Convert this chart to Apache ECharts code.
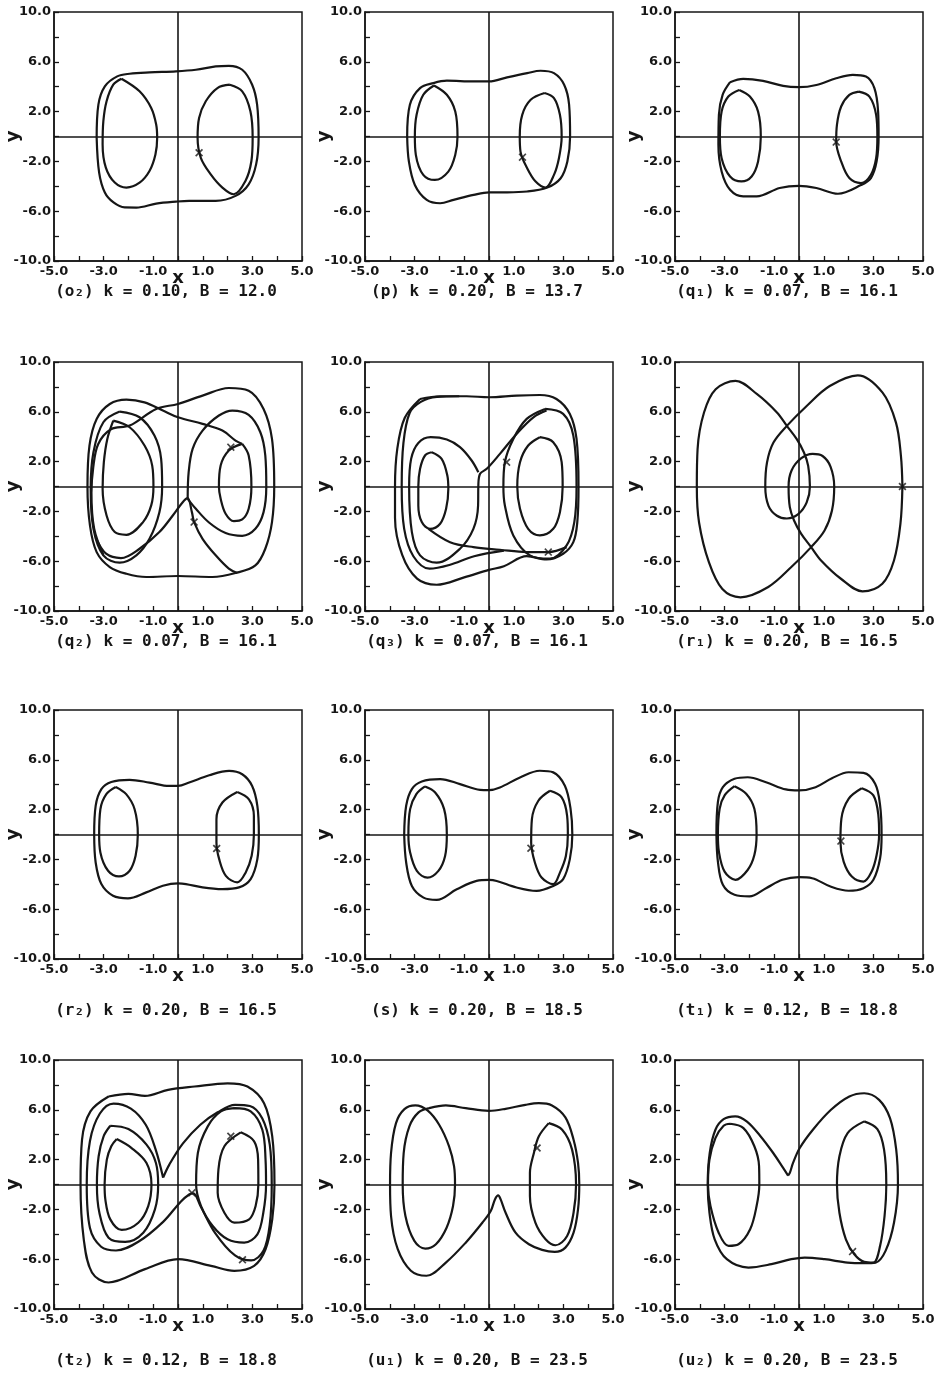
<!DOCTYPE html>
<html>
<head>
<meta charset="utf-8">
<script src="https://cdn.jsdelivr.net/npm/echarts@6/dist/echarts.min.js"></script>
<style>
  html, body { margin: 0; background: #fff; }
  #chart { width: 947px; height: 1380px; }
</style>
</head>
<body>
<div id="chart"></div>
<script>
// tick labels shown on the axes
var xTicks = [-5, -3, -1, 1, 3, 5];
var yTicks = [-10, -6, -2, 2, 6, 10];

// (o2) k = 0.10, B = 12.0
var o2LoopL = [[-2.28,4.64],[-1.55,3.63],[-1.08,2.29],[-0.88,0.96],[-0.84,-0.1],[-0.91,-1.44],[-1.15,-2.77],[-1.55,-3.71],[-2.08,-4.1],[-2.55,-3.7],[-2.91,-2.5],[-3.04,-0.64],[-3.01,1.23],[-2.88,2.83],[-2.61,4.16],[-2.28,4.64]];
var o2Outer = [[-3.28,-0.1],[-3.21,2.56],[-2.95,4.03],[-2.45,4.83],[-1.95,5.04],[-1.15,5.15],[-0.08,5.23],[0.72,5.36],[1.52,5.63],[2.05,5.68],[2.59,5.36],[2.99,4.16],[3.19,2.56],[3.25,-0.1],[3.15,-2.24],[2.85,-3.84],[2.32,-4.77],[1.52,-5.17],[0.45,-5.17],[-0.08,-5.23],[-0.88,-5.39],[-1.68,-5.71],[-2.15,-5.7],[-2.6,-5.3],[-2.95,-4.5],[-3.18,-2.9],[-3.28,-0.1]];
var o2LoopR = [[2.09,4.16],[2.59,3.63],[2.92,2.03],[3.01,-0.1],[2.96,-1.97],[2.72,-3.57],[2.25,-4.64],[1.79,-4.1],[1.32,-3.04],[0.92,-1.71],[0.79,-0.1],[0.85,1.49],[1.12,2.83],[1.59,3.89],[2.09,4.16]];
var o2Mark = [[0.85,-1.31]];

// (p) k = 0.20, B = 13.7
var pLoopL = [[-2.22,4.1],[-1.7,3.35],[-1.36,2.01],[-1.27,0],[-1.36,-1.47],[-1.64,-2.82],[-2.18,-3.49],[-2.65,-3.08],[-2.95,-1.47],[-2.99,0],[-2.92,1.74],[-2.65,3.35],[-2.22,4.1]];
var pOuter = [[-3.3,0],[-3.19,2.55],[-2.78,3.89],[-2.24,4.29],[-1.7,4.48],[-0.62,4.42],[0,4.42],[0.73,4.75],[1.54,5.09],[2.08,5.28],[2.62,5.09],[3.03,4.16],[3.23,2.55],[3.27,0],[3.16,-2.01],[2.89,-3.35],[2.35,-4.1],[1.54,-4.42],[0.73,-4.48],[0,-4.48],[-0.62,-4.69],[-1.43,-5.09],[-1.97,-5.36],[-2.51,-5.09],[-2.99,-3.89],[-3.23,-2.01],[-3.3,0]];
var pLoopR = [[2.24,3.49],[2.62,3.08],[2.86,1.74],[2.93,0],[2.82,-1.74],[2.62,-3.08],[2.28,-4.1],[1.88,-3.62],[1.54,-2.55],[1.27,-1.21],[1.24,0],[1.34,1.74],[1.68,2.95],[2.24,3.49]];
var pMark = [[1.35,-1.66]];

// (q1) k = 0.07, B = 16.1
var q1Outer = [[-2.78,4.36],[-2.25,4.63],[-1.45,4.47],[-0.64,4.06],[0,3.96],[0.7,4.14],[1.5,4.68],[2.17,4.95],[2.7,4.81],[3.04,3.88],[3.19,2.0],[3.21,0],[3.13,-2.0],[2.9,-3.34],[2.5,-3.9],[1.57,-4.6],[0.7,-4.14],[0,-3.96],[-0.78,-4.14],[-1.71,-4.81],[-2.25,-4.81],[-2.78,-4.28],[-3.12,-2.81],[-3.25,-0.67],[-3.23,1.74],[-3.08,3.34],[-2.78,4.36]];
var q1LoopL = [[-2.41,3.74],[-1.98,3.21],[-1.65,2.0],[-1.54,0],[-1.65,-2.0],[-1.91,-3.21],[-2.32,-3.61],[-2.78,-3.21],[-3.12,-1.74],[-3.19,0],[-3.12,2.0],[-2.85,3.21],[-2.41,3.74]];
var q1LoopR = [[2.41,3.61],[2.84,3.21],[3.11,1.74],[3.16,0],[3.11,-1.74],[2.9,-3.07],[2.5,-3.74],[2.03,-3.34],[1.7,-2.0],[1.5,-0.4],[1.53,0.94],[1.7,2.41],[2.03,3.34],[2.41,3.61]];
var q1Mark = [[1.5,-0.45]];

// (q2) k = 0.07, B = 16.1
var q2LoopA = [[-2.61,5.29],[-1.95,4.76],[-1.35,3.29],[-1.04,1.68],[-0.99,0],[-1.08,-1.52],[-1.41,-2.86],[-2.08,-3.88],[-2.55,-3.66],[-2.88,-2.33],[-3.04,-0.19],[-2.99,1.95],[-2.85,3.82],[-2.61,5.29]];
var q2LoopB = [[-2.35,6.02],[-1.55,5.56],[-0.95,4.09],[-0.68,2.22],[-0.64,0],[-0.75,-2.06],[-1.15,-4.2],[-1.68,-5.53],[-2.35,-6.12],[-3.01,-5.53],[-3.41,-3.4],[-3.52,-0.19],[-3.41,2.75],[-3.01,5.16],[-2.35,6.02]];
var q2Outer = [[-3.01,-5.5],[-3.38,-3.4],[-3.49,-0.5],[-3.42,1.5],[-3.22,3.4],[-2.7,4.6],[-1.95,4.89],[-0.88,6.23],[0,6.63],[0.99,7.3],[2.05,7.91],[2.85,7.7],[3.45,6.23],[3.79,3.82],[3.88,0],[3.79,-2.86],[3.52,-5.0],[3.12,-6.34],[2.32,-6.95],[1.39,-7.27],[0,-7.19],[-1.28,-7.27],[-2.08,-7.01],[-2.75,-6.47],[-3.28,-5.27],[-3.55,-3.13],[-3.65,0],[-3.57,3.29],[-3.28,5.43],[-2.75,6.63],[-2.08,6.98],[-1.35,6.76],[-0.61,6.1],[0,5.56],[0.99,5.03],[1.79,4.49],[2.32,3.69],[2.59,3.42]];
var q2LoopRI = [[2.59,3.42],[2.85,2.49],[2.96,0],[2.85,-1.79],[2.59,-2.65],[2.25,-2.78],[1.92,-2.19],[1.72,-0.99],[1.65,0],[1.72,1.68],[2.05,2.89],[2.59,3.42]];
var q2LoopRM = [[0.39,-0.99],[0.43,1.15],[0.59,3.02],[0.99,4.49],[1.65,5.7],[2.19,6.1],[2.85,5.75],[3.32,4.36],[3.52,2.49],[3.56,0],[3.45,-2.06],[3.12,-3.4],[2.59,-3.96],[1.92,-3.74],[1.25,-2.89],[0.72,-1.79],[0.39,-0.99]];
var q2Lower = [[-3.3,-4.2],[-2.9,-5.4],[-2.3,-5.75],[-1.55,-5.0],[-0.75,-3.66],[-0.21,-2.33],[0.19,-1.26],[0.39,-0.94],[0.56,-2.06],[0.65,-2.86],[0.99,-4.2],[1.52,-5.53],[2.05,-6.6],[2.39,-6.95]];
var q2Mark = [[0.65,-2.86],[2.13,3.16]];

// (q3) k = 0.07, B = 16.1
var q3LoopA = [[-2.31,2.75],[-1.91,2.22],[-1.68,0.88],[-1.64,-0.19],[-1.73,-1.79],[-1.97,-2.99],[-2.38,-3.4],[-2.71,-2.86],[-2.85,-1.52],[-2.85,0],[-2.78,1.42],[-2.58,2.49],[-2.31,2.75]];
var q3LoopB = [[2.32,6.1],[1.79,5.56],[1.11,4.22],[0.44,2.62],[-0.09,1.42],[-0.36,1.02],[-0.43,0.08],[-0.44,-1.52],[-0.63,-3.4],[-1.17,-5.0],[-2.11,-6.12],[-2.78,-5.53],[-3.11,-3.66],[-3.22,0],[-3.14,2.22],[-2.85,3.5],[-2.35,3.96],[-1.7,3.77],[-1.17,3.16],[-0.7,2.09],[-0.43,1.15]];
var q3LoopC = [[-1.2,7.25],[-2.1,7.2],[-2.75,6.8],[-3.2,5.9],[-3.45,3.5],[-3.52,0],[-3.42,-3.4],[-3.05,-5.6],[-2.4,-6.6],[-1.6,-6.3],[-0.6,-5.6],[0.6,-5.15]];
var q3Outer = [[-2.78,7.03],[-1.97,7.25],[-0.9,7.25],[0,7.17],[1.11,7.3],[2.05,7.35],[2.72,7.03],[3.26,5.83],[3.53,3.82],[3.61,0],[3.56,-2.86],[3.4,-4.47],[2.99,-5.4],[2.32,-5.86],[1.52,-5.6],[0.6,-6.4],[0,-6.7],[-1.0,-7.3],[-2.11,-7.89],[-2.9,-7.4],[-3.5,-5.5],[-3.79,-2.5],[-3.79,0],[-3.7,3.0],[-3.4,5.5],[-2.78,7.03]];
var q3LoopR1 = [[2.05,3.96],[2.59,3.56],[2.93,1.95],[2.97,0],[2.86,-2.06],[2.59,-3.4],[2.05,-3.93],[1.58,-3.4],[1.25,-1.79],[1.14,0],[1.25,1.95],[1.58,3.29],[2.05,3.96]];
var q3LoopR2 = [[2.26,6.23],[2.99,5.83],[3.4,4.09],[3.53,0],[3.44,-2.86],[3.13,-4.73],[2.46,-5.8],[1.65,-5.53],[0.98,-3.93],[0.64,-1.52],[0.58,0],[0.64,1.95],[0.98,3.82],[1.52,5.43],[2.26,6.23]];
var q3Lower = [[-2.44,-3.4],[-1.57,-4.47],[-0.63,-4.87],[0.44,-5.08],[1.52,-5.27],[2.39,-5.27],[3.13,-4.87]];
var q3Mark = [[0.71,1.95],[2.39,-5.27]];

// (r1) k = 0.20, B = 16.5
var r1Orbit = [[4.17,0],[4.11,2.46],[3.91,5.13],[3.37,7.54],[2.37,8.93],[1.24,8.07],[0.31,6.47],[-0.49,4.87],[-1.03,3.53],[-1.29,1.93],[-1.36,0],[-1.23,-1.55],[-0.89,-2.35],[-0.49,-2.57],[-0.03,-2.22],[0.31,-1.28],[0.44,0],[0.37,1.66],[0.2,2.73],[-0.09,3.8],[-0.49,4.87],[-0.89,5.94],[-1.69,7.41],[-2.56,8.48],[-3.36,7.81],[-3.83,5.94],[-4.09,2.99],[-4.12,0],[-4.03,-2.89],[-3.63,-6.1],[-3.09,-8.24],[-2.36,-8.9],[-1.24,-8.07],[-0.31,-6.47],[0.49,-4.87],[1.03,-3.53],[1.33,-1.93],[1.42,0],[1.27,1.6],[0.95,2.45],[0.55,2.62],[0.08,2.25],[-0.3,1.28],[-0.42,0],[-0.37,-1.66],[-0.2,-2.73],[0.09,-3.8],[0.49,-4.87],[0.89,-5.94],[1.69,-7.41],[2.56,-8.42],[3.36,-7.81],[3.83,-5.94],[4.09,-2.99],[4.17,0]];
var r1Mark = [[4.17,0]];

// (r2) k = 0.20, B = 16.5
var r2Outer = [[-3.38,0],[-3.32,2.3],[-3.09,3.64],[-2.69,4.22],[-1.95,4.39],[-1.15,4.17],[-0.35,3.9],[0,3.9],[0.45,4.17],[1.26,4.76],[2.06,5.11],[2.59,4.84],[2.99,3.9],[3.2,2.3],[3.26,0],[3.2,-1.98],[2.93,-3.58],[2.46,-4.25],[1.79,-4.39],[0.99,-4.25],[0.32,-3.98],[0,-3.93],[-0.61,-4.12],[-1.28,-4.65],[-2.02,-5.13],[-2.62,-4.92],[-3.09,-3.98],[-3.32,-2.25],[-3.38,0]];
var r2LoopL = [[-2.51,3.82],[-2.09,3.24],[-1.75,2.03],[-1.62,0],[-1.71,-1.71],[-1.95,-2.91],[-2.38,-3.37],[-2.82,-2.91],[-3.13,-1.44],[-3.18,0],[-3.13,2.03],[-2.89,3.24],[-2.51,3.82]];
var r2LoopR = [[2.39,3.42],[2.86,2.83],[3.06,1.5],[3.06,0],[2.97,-1.71],[2.73,-3.05],[2.39,-3.85],[1.93,-3.32],[1.66,-1.98],[1.55,-0.64],[1.55,1.23],[1.79,2.57],[2.39,3.42]];
var r2Mark = [[1.56,-1.12]];

// (s) k = 0.20, B = 18.5
var sOuter = [[-3.42,0],[-3.34,2.31],[-3.11,3.65],[-2.71,4.26],[-1.97,4.45],[-1.17,4.05],[-0.36,3.59],[0,3.57],[0.44,3.78],[1.25,4.58],[2.05,5.12],[2.59,4.99],[3.06,3.91],[3.29,2.04],[3.36,0],[3.26,-1.98],[2.99,-3.59],[2.59,-4.13],[1.92,-4.53],[1.11,-4.26],[0.31,-3.73],[0,-3.65],[-0.5,-3.73],[-1.3,-4.4],[-2.11,-5.25],[-2.64,-5.07],[-3.11,-4.13],[-3.34,-2.25],[-3.42,0]];
var sLoopL = [[-2.58,3.86],[-2.17,3.38],[-1.81,2.04],[-1.7,0],[-1.77,-1.72],[-2.04,-2.92],[-2.48,-3.46],[-2.91,-2.92],[-3.18,-1.45],[-3.25,0],[-3.18,2.04],[-2.93,3.24],[-2.58,3.86]];
var sLoopR = [[2.46,3.51],[2.93,2.98],[3.15,1.5],[3.18,0],[3.1,-1.72],[2.86,-3.06],[2.59,-3.99],[2.12,-3.46],[1.85,-2.25],[1.7,-0.64],[1.73,1.23],[1.99,2.71],[2.46,3.51]];
var sMark = [[1.69,-1.1]];

// (t1) k = 0.12, B = 18.8
var t1Outer = [[-3.33,0],[-3.27,2.61],[-3.07,3.8],[-2.6,4.47],[-2.07,4.6],[-1.33,4.2],[-0.53,3.62],[0,3.54],[0.67,3.8],[1.33,4.52],[2.0,5.0],[2.6,4.95],[3.07,4.07],[3.27,2.34],[3.33,0],[3.27,-1.91],[3.0,-3.64],[2.6,-4.31],[2.0,-4.52],[1.27,-4.18],[0.53,-3.51],[0,-3.43],[-0.67,-3.64],[-1.33,-4.31],[-2.0,-4.97],[-2.6,-4.84],[-3.07,-4.04],[-3.27,-2.18],[-3.33,0]];
var t1LoopL = [[-2.6,3.88],[-2.13,3.27],[-1.8,2.07],[-1.71,0],[-1.8,-1.65],[-2.07,-2.85],[-2.56,-3.64],[-3.0,-2.98],[-3.23,-1.38],[-3.27,0],[-3.2,2.07],[-3.0,3.14],[-2.6,3.88]];
var t1LoopR = [[2.53,3.72],[3.0,3.14],[3.2,1.54],[3.23,0],[3.13,-1.65],[2.93,-2.98],[2.6,-3.78],[2.13,-3.38],[1.8,-2.18],[1.67,-0.59],[1.71,1.28],[2.0,2.87],[2.53,3.72]];
var t1Mark = [[1.69,-0.53]];

// (t2) k = 0.12, B = 18.8
var t2L1 = [[-2.47,3.65],[-1.87,2.93],[-1.27,1.73],[-1.07,0],[-1.2,-1.73],[-1.6,-3.07],[-2.27,-3.65],[-2.73,-2.8],[-2.93,-1.2],[-2.96,0],[-2.87,2.0],[-2.69,3.07],[-2.47,3.65]];
var t2L2 = [[-2.73,4.72],[-2.0,4.45],[-1.27,3.2],[-0.89,1.73],[-0.8,0],[-0.93,-2.0],[-1.4,-3.87],[-2.13,-4.61],[-2.8,-4.27],[-3.17,-2.27],[-3.27,0],[-3.2,2.27],[-3.0,3.87],[-2.73,4.72]];
var t2Cross = [[-0.6,0.55],[-0.35,1.6],[0.2,3.3],[0.9,4.8],[1.6,5.8],[2.3,6.4],[2.9,6.3],[3.4,5.3],[3.7,3.2],[3.78,0],[3.7,-3.2],[3.45,-5.3],[2.95,-6.1],[2.3,-5.7],[1.5,-3.9],[0.9,-1.7],[0.62,-0.72],[0.45,-0.8],[0.1,-1.4],[-0.6,-3.0],[-1.6,-4.6],[-2.5,-5.3],[-3.1,-5.0],[-3.55,-3.5],[-3.68,0],[-3.55,3.5],[-3.15,5.7],[-2.6,6.5],[-1.9,6.1],[-1.3,4.8],[-0.9,2.8],[-0.6,0.55]];
var t2Outer = [[-2.8,7.07],[-2.0,7.28],[-1.33,7.12],[-0.4,7.6],[0.67,7.87],[2.0,8.13],[2.8,7.87],[3.47,6.53],[3.8,3.87],[3.89,0],[3.8,-2.8],[3.53,-5.2],[3.07,-6.53],[2.27,-6.93],[1.33,-6.53],[0,-6.0],[-1.33,-6.8],[-2.8,-7.87],[-3.47,-7.07],[-3.8,-4.4],[-3.93,0],[-3.87,3.6],[-3.53,5.87],[-2.8,7.07]];
var t2R1 = [[2.53,4.19],[3.07,3.47],[3.23,2.0],[3.24,0],[3.13,-1.73],[2.87,-2.8],[2.27,-3.07],[1.87,-2.27],[1.6,-0.67],[1.63,1.2],[1.87,3.07],[2.53,4.19]];
var t2R2 = [[2.27,6.13],[2.93,5.87],[3.4,4.4],[3.53,2.0],[3.55,0],[3.44,-2.27],[3.2,-4.0],[2.67,-4.67],[2.0,-4.4],[1.4,-3.33],[0.93,-1.73],[0.73,0],[0.8,2.53],[1.2,4.67],[1.73,5.87],[2.27,6.13]];
var t2Mark = [[2.13,3.87],[0.56,-0.67],[2.6,-6.05]];

// (u1) k = 0.20, B = 23.5
var u1Orbit = [[-2.41,6.13],[-1.74,6.35],[-0.94,6.13],[0,5.92],[0.67,6.08],[1.47,6.4],[2.01,6.53],[2.54,6.35],[3.08,5.39],[3.41,3.6],[3.59,1.73],[3.64,0],[3.59,-2.0],[3.41,-3.87],[3.08,-5.07],[2.65,-5.41],[2.14,-5.25],[1.61,-4.8],[1.07,-3.87],[0.67,-2.27],[0.47,-1.2],[0.37,-0.88],[0.24,-1.2],[0.07,-2.13],[-0.27,-3.07],[-0.94,-4.67],[-1.74,-6.27],[-2.52,-7.33],[-3.15,-6.93],[-3.68,-5.2],[-3.95,-2.53],[-3.99,0],[-3.95,2.53],[-3.75,4.93],[-3.41,6.05],[-2.97,6.35],[-2.48,5.95],[-2.01,4.8],[-1.61,3.07],[-1.41,1.47],[-1.37,0],[-1.45,-1.73],[-1.71,-3.47],[-2.14,-4.8],[-2.57,-5.15],[-3.01,-4.53],[-3.37,-2.53],[-3.48,0],[-3.44,2.53],[-3.21,4.67],[-2.84,5.79],[-2.41,6.13]];
var u1LoopR = [[2.41,4.93],[2.95,4.4],[3.35,2.8],[3.51,0],[3.41,-2.27],[3.15,-4.13],[2.68,-4.88],[2.28,-4.4],[1.87,-3.07],[1.65,-0.93],[1.65,0.93],[1.81,2.53],[2.01,3.87],[2.41,4.93]];
var u1Mark = [[1.94,2.93]];

// (u2) k = 0.20, B = 23.5
var u2Big = [[-0.44,0.72],[-0.64,1.33],[-1.04,2.53],[-1.57,3.92],[-2.11,5.07],[-2.57,5.47],[-3.04,5.25],[-3.37,4.4],[-3.6,2.53],[-3.68,0],[-3.61,-2.27],[-3.4,-4.4],[-2.91,-6.0],[-2.04,-6.67],[-1.11,-6.4],[-0.31,-6.0],[0.23,-5.87],[1.03,-6.0],[1.96,-6.27],[2.63,-6.32],[3.09,-6.27],[3.49,-5.33],[3.83,-3.07],[3.99,0],[3.92,2.8],[3.67,5.33],[3.23,6.8],[2.63,7.33],[2.03,7.07],[1.29,6.0],[0.56,4.4],[0.03,2.93],[-0.24,1.73],[-0.37,0.93],[-0.44,0.72]];
var u2LoopL = [[-2.77,4.88],[-2.24,4.53],[-1.8,3.07],[-1.61,1.47],[-1.6,0],[-1.71,-1.73],[-1.97,-3.6],[-2.44,-4.8],[-2.84,-4.93],[-3.24,-3.87],[-3.57,-1.73],[-3.67,0],[-3.61,2.0],[-3.37,3.73],[-3.04,4.72],[-2.77,4.88]];
var u2LoopR = [[2.63,5.07],[3.16,4.45],[3.43,2.8],[3.52,0],[3.45,-2.53],[3.27,-4.93],[3.0,-6.27],[2.63,-6.21],[2.23,-5.6],[1.89,-4.4],[1.63,-2.27],[1.53,0],[1.63,2.27],[1.96,4.13],[2.63,5.07]];
var u2Mark = [[2.16,-5.39]];

var panels = [
  {cap: '(o₂) k = 0.10, B = 12.0', curves: [o2LoopL, o2Outer, o2LoopR], mark: o2Mark},
  {cap: '(p) k = 0.20, B = 13.7', curves: [pLoopL, pOuter, pLoopR], mark: pMark},
  {cap: '(q₁) k = 0.07, B = 16.1', curves: [q1Outer, q1LoopL, q1LoopR], mark: q1Mark},
  {cap: '(q₂) k = 0.07, B = 16.1', curves: [q2LoopA, q2LoopB, q2Outer, q2LoopRI, q2LoopRM, q2Lower], mark: q2Mark},
  {cap: '(q₃) k = 0.07, B = 16.1', curves: [q3LoopA, q3LoopB, q3LoopC, q3Outer, q3LoopR1, q3LoopR2, q3Lower], mark: q3Mark},
  {cap: '(r₁) k = 0.20, B = 16.5', curves: [r1Orbit], mark: r1Mark},
  {cap: '(r₂) k = 0.20, B = 16.5', curves: [r2Outer, r2LoopL, r2LoopR], mark: r2Mark},
  {cap: '(s) k = 0.20, B = 18.5', curves: [sOuter, sLoopL, sLoopR], mark: sMark},
  {cap: '(t₁) k = 0.12, B = 18.8', curves: [t1Outer, t1LoopL, t1LoopR], mark: t1Mark},
  {cap: '(t₂) k = 0.12, B = 18.8', curves: [t2L1, t2L2, t2Cross, t2Outer, t2R1, t2R2], mark: t2Mark},
  {cap: '(u₁) k = 0.20, B = 23.5', curves: [u1Orbit, u1LoopR], mark: u1Mark},
  {cap: '(u₂) k = 0.20, B = 23.5', curves: [u2Big, u2LoopL, u2LoopR], mark: u2Mark}
];

var ink = '#161616';
var colLeft = [54, 365, 675];
var rowTop = [12, 362, 710, 1060];
var capY = [292, 642, 1011, 1361];
var W = 248, H = 249;
var crossSym = 'path://M1.5,0L5,3.5L8.5,0L10,1.5L6.5,5L10,8.5L8.5,10L5,6.5L1.5,10L0,8.5L3.5,5L0,1.5Z';

var grids = [], xAxes = [], yAxes = [], series = [], graphics = [];

panels.forEach(function (p, i) {
  var r = Math.floor(i / 3), c = i % 3;
  grids.push({left: colLeft[c], top: rowTop[r], width: W, height: H,
    show: true, borderColor: ink, borderWidth: 1.5, backgroundColor: 'transparent'});

  xAxes.push({
    gridIndex: i, type: 'value', min: -5, max: 5, interval: 1,
    name: 'x', nameLocation: 'middle', nameGap: 8, nameMoveOverlap: false,
    nameTextStyle: {fontSize: 18, fontWeight: 'bold', color: ink, fontFamily: 'DejaVu Sans',
      verticalAlign: 'top'},
    axisLine: {show: true, onZero: false, lineStyle: {color: ink, width: 1.5}},
    axisTick: {show: true, inside: true, length: 5, lineStyle: {color: ink, width: 1.3}},
    axisLabel: {
      showMinLabel: true, showMaxLabel: true, margin: 4,
      fontSize: 13, fontWeight: 'bold', color: ink, fontFamily: 'DejaVu Sans',
      formatter: function (v) { return xTicks.indexOf(v) >= 0 ? v.toFixed(1) : ''; }
    },
    splitLine: {show: false}
  });

  yAxes.push({
    gridIndex: i, type: 'value', min: -10, max: 10, interval: 2,
    name: 'y', nameLocation: 'middle', nameGap: 32, nameMoveOverlap: false,
    nameTextStyle: {fontSize: 18, fontWeight: 'bold', color: ink, fontFamily: 'DejaVu Sans'},
    axisLine: {show: true, onZero: false, lineStyle: {color: ink, width: 1.5}},
    axisTick: {show: true, inside: true, length: 5, lineStyle: {color: ink, width: 1.3}},
    axisLabel: {
      showMinLabel: true, showMaxLabel: true, margin: 3,
      fontSize: 13, fontWeight: 'bold', color: ink, fontFamily: 'DejaVu Sans',
      formatter: function (v) { return yTicks.indexOf(v) >= 0 ? v.toFixed(1) : ''; }
    },
    splitLine: {show: false}
  });

  p.curves.forEach(function (d, j) {
    var s = {
      type: 'line', xAxisIndex: i, yAxisIndex: i, data: d,
      smooth: 0.35, showSymbol: false, symbol: 'none', silent: true,
      lineStyle: {color: ink, width: 2.2}, z: 3
    };
    if (j === 0) {
      s.markLine = {
        silent: true, symbol: 'none', label: {show: false}, animation: false,
        lineStyle: {color: ink, width: 1.6, type: 'solid'},
        data: [{xAxis: 0}, {yAxis: 0}]
      };
    }
    series.push(s);
  });

  series.push({
    type: 'scatter', xAxisIndex: i, yAxisIndex: i, data: p.mark,
    symbol: crossSym, symbolSize: 8, itemStyle: {color: ink}, silent: true, z: 4
  });

  graphics.push({
    type: 'text', x: colLeft[c] + W / 2 - 12, y: capY[r],
    style: {text: p.cap, font: 'bold 16px "DejaVu Sans Mono"', fill: ink,
      align: 'center', verticalAlign: 'middle'}
  });
});

var chart = echarts.init(document.getElementById('chart'));
chart.setOption({
  animation: false,
  backgroundColor: '#fff',
  grid: grids,
  xAxis: xAxes,
  yAxis: yAxes,
  series: series,
  graphic: graphics
});
</script>
</body>
</html>
